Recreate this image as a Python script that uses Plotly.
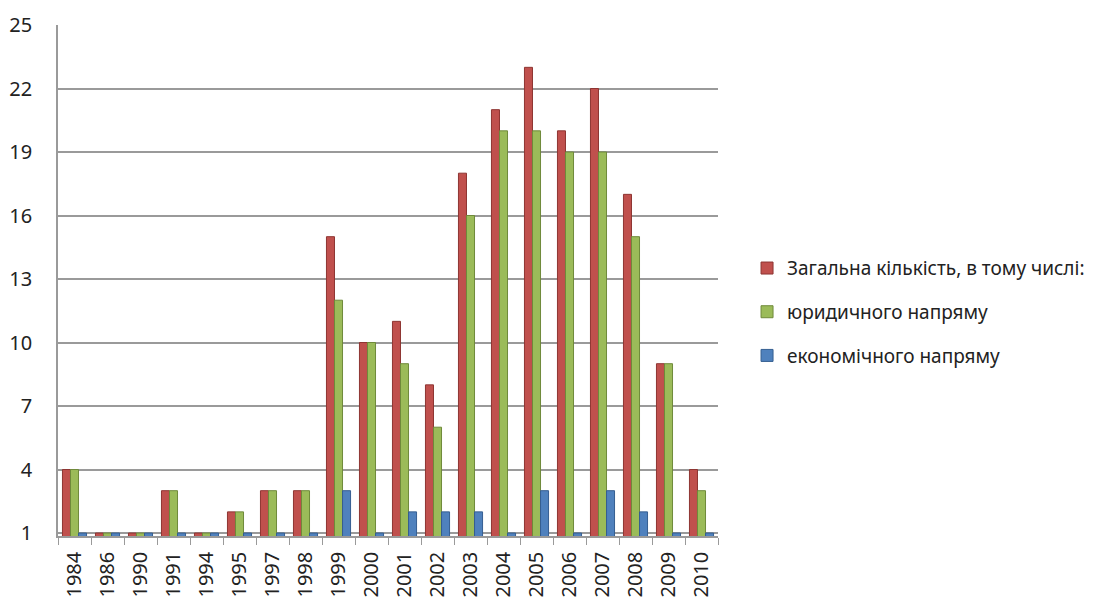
import plotly.graph_objects as go

years = ["1984", "1986", "1990", "1991", "1994", "1995", "1997", "1998", "1999", "2000",
         "2001", "2002", "2003", "2004", "2005", "2006", "2007", "2008", "2009", "2010"]
total = [4, 1, 1, 3, 1, 2, 3, 3, 15, 10, 11, 8, 18, 21, 23, 20, 22, 17, 9, 4]
legal = [4, 1, 1, 3, 1, 2, 3, 3, 12, 10, 9, 6, 16, 20, 20, 19, 19, 15, 9, 3]
econ = [1, 1, 1, 1, 1, 1, 1, 1, 3, 1, 2, 2, 2, 1, 3, 1, 3, 2, 1, 1]

names = ["Загальна кількість, в тому числі:", "юридичного напряму", "економічного напряму"]
series = [total, legal, econ]
colors = ["#C0504D", "#9BBB59", "#4F81BD"]
edges = ["#8E3532", "#6F8A3A", "#355E91"]

FONT = "Noto Sans"

fig = go.Figure()
for i, (nm, vals) in enumerate(zip(names, series)):
    fig.add_trace(go.Bar(
        x=years, y=vals, name=nm, legendgroup=f"g{i}",
        marker=dict(color=colors[i], line=dict(color=edges[i], width=1)),
    ))

fig.update_layout(
    width=1105, height=596,
    margin=dict(l=50, r=395, t=17, b=68),
    paper_bgcolor="white", plot_bgcolor="white",
    barmode="group", bargap=0.27, bargroupgap=0,
    font=dict(family=FONT, size=19, color="#222"),
    showlegend=True,
    legend=dict(x=1.044, y=0.438, xanchor="left", yanchor="middle",
                font=dict(family=FONT, size=19, color="#222"),
                tracegroupgap=16, itemwidth=30, bgcolor="rgba(0,0,0,0)"),
    xaxis=dict(type="category", tickangle=-90, showgrid=False, automargin=False,
               showline=True, linecolor="#9a9a9a", linewidth=1.5,
               ticks="outside", ticklen=7, tickcolor="#9a9a9a",
               tickson="boundaries", ticklabelstandoff=6,
               tickfont=dict(family=FONT, size=20, color="#222")),
    yaxis=dict(range=[0.86, 25], tickvals=[1, 4, 7, 10, 13, 16, 19, 22, 25],
               automargin=False,
               showgrid=True, gridcolor="#9a9a9a", gridwidth=1.5,
               showline=True, linecolor="#9a9a9a", linewidth=1.5,
               zeroline=False, ticks="", ticklabelstandoff=20,
               tickfont=dict(family=FONT, size=20, color="#222")),
)

fig.write_html("out.html")
